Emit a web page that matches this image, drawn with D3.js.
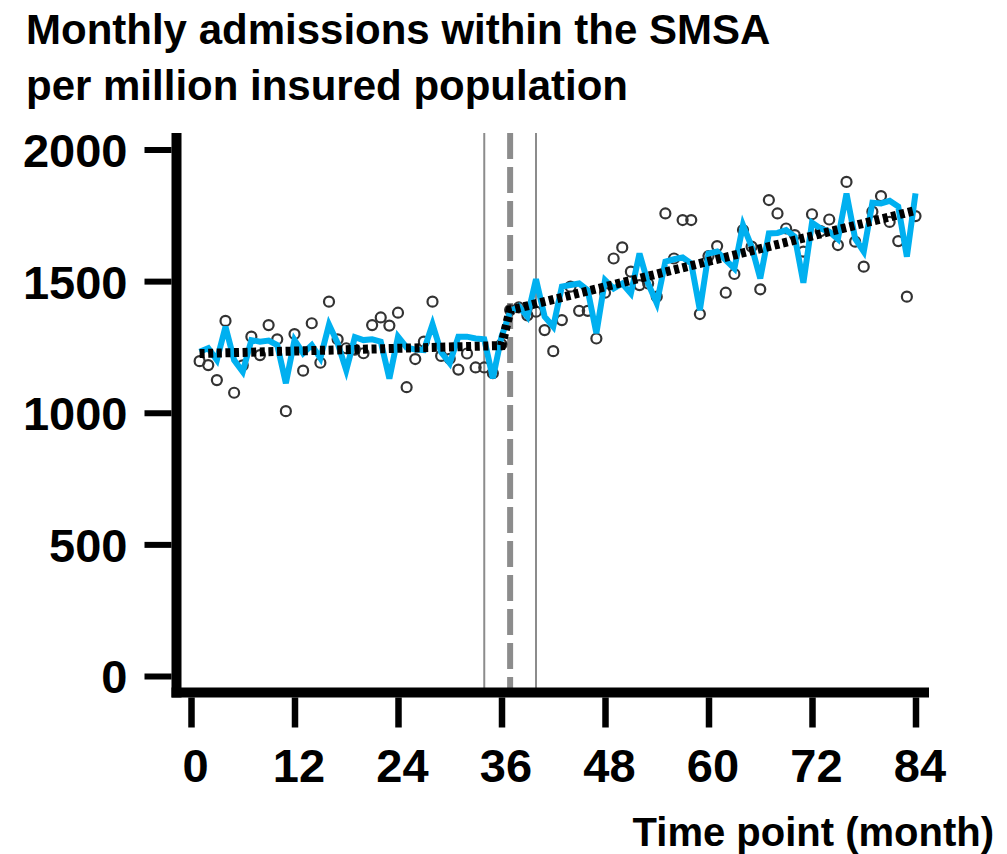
<!DOCTYPE html>
<html><head><meta charset="utf-8">
<script src="https://cdn.jsdelivr.net/npm/d3@7"></script>
<style>
body{margin:0;background:#fff}
text{font-family:"Liberation Sans",Arial,sans-serif;font-weight:bold;fill:#000}
</style>
</head><body><svg id="c" width="1007" height="854"></svg>
<script>
// ---- data ----
const months = d3.range(1, 85);
const observed = [1196,1181,1124,1349,1076,1180,1289,1219,1333,1279,
  1006,1299,1160,1340,1190,1422,1279,1245,1240,1226,
  1333,1362,1331,1380,1097,1204,1270,1422,1216,1205,
  1164,1225,1172,1172,1150,1260,1390,1400,1370,1384,
  1314,1234,1352,1479,1387,1387,1282,1456,1586,1628,
  1536,1485,1491,1441,1757,1586,1732,1732,1375,1595,
  1633,1456,1527,1694,1631,1469,1808,1757,1700,1675,
  1612,1754,1690,1734,1637,1877,1650,1555,1764,1823,
  1725,1652,1441,1747];
const fitted = [1232,1245,1200,1327,1200,1156,1276,1270,1274,1257,
  1112,1276,1226,1257,1207,1335,1265,1162,1287,1276,
  1279,1270,1130,1289,1248,1240,1238,1336,1230,1188,
  1289,1289,1282,1279,1131,1289,1384,1405,1365,1507,
  1365,1327,1479,1485,1491,1466,1302,1504,1472,1491,
  1453,1605,1491,1416,1574,1583,1590,1567,1390,1605,
  1612,1580,1548,1713,1631,1510,1681,1683,1694,1669,
  1494,1722,1700,1688,1660,1833,1662,1612,1798,1795,
  1805,1783,1593,1833];
const trendMonths = [1, 36, 37, 84];
const trendValues = [1225, 1255, 1390, 1768];
const solidMarkers = [34, 40];
const dashedMarker = [37];
const xTicks = [0, 12, 24, 36, 48, 60, 72, 84];
const yTicks = [0, 500, 1000, 1500, 2000];
const titleLines = ["Monthly admissions within the SMSA", "per million insured population"];
const xLabel = "Time point (month)";

// ---- layout ----
const svg = d3.select("#c");
const x = d3.scaleLinear().domain([0, 84]).range([191, 915.5]);
const y = d3.scaleLinear().domain([0, 2000]).range([676, 149.5]);
const plotTop = 133, plotBottom = 688;
const yAxisX = 176.5, xAxisY = 692.5;

// intervention markers
svg.selectAll("line.solid").data(solidMarkers).join("line")
  .attr("x1", d => x(d)).attr("x2", d => x(d))
  .attr("y1", plotTop).attr("y2", plotBottom)
  .attr("stroke", "#8c8c8c").attr("stroke-width", 2);
svg.selectAll("line.dash").data(dashedMarker).join("line")
  .attr("x1", d => x(d)).attr("x2", d => x(d))
  .attr("y1", plotTop).attr("y2", plotBottom)
  .attr("stroke", "#8c8c8c").attr("stroke-width", 6)
  .attr("stroke-dasharray", "26,8");

// observed points
svg.append("g").selectAll("circle").data(months).join("circle")
  .attr("cx", (d) => x(d)).attr("cy", (d, i) => y(observed[i]))
  .attr("r", 5).attr("fill", "none")
  .attr("stroke", "#333").attr("stroke-width", 2.2);

// fitted line
svg.append("path")
  .datum(months.map((m, i) => [m, fitted[i]]))
  .attr("fill", "none").attr("stroke", "#00b0f0")
  .attr("stroke-width", 6).attr("stroke-linejoin", "miter")
  .attr("d", d3.line().x(d => x(d[0])).y(d => y(d[1])));

// segmented trend
svg.append("path")
  .datum(trendMonths.map((m, i) => [m, trendValues[i]]))
  .attr("fill", "none").attr("stroke", "#000")
  .attr("stroke-width", 9).attr("stroke-dasharray", "5,3.6")
  .attr("d", d3.line().x(d => x(d[0])).y(d => y(d[1])));

// axes lines
svg.append("line").attr("x1", yAxisX).attr("x2", yAxisX)
  .attr("y1", plotTop).attr("y2", xAxisY + 5)
  .attr("stroke", "#000").attr("stroke-width", 10);
svg.append("line").attr("x1", yAxisX - 5).attr("x2", 929)
  .attr("y1", xAxisY).attr("y2", xAxisY)
  .attr("stroke", "#000").attr("stroke-width", 10);

// y axis ticks
const gy = svg.append("g").attr("transform", `translate(${yAxisX - 5},0)`)
  .call(d3.axisLeft(y).tickValues(yTicks).tickFormat(d3.format("d"))
    .tickSize(27).tickPadding(17).tickSizeOuter(0));
gy.select(".domain").remove();
gy.selectAll(".tick line").attr("stroke", "#000").attr("stroke-width", 6);
gy.selectAll(".tick text").attr("font-size", 47).attr("dy", "0.36em")
  .attr("font-family", null);

// x axis ticks
const gx = svg.append("g").attr("transform", `translate(0,${xAxisY + 5})`)
  .call(d3.axisBottom(x).tickValues(xTicks).tickFormat(d3.format("d"))
    .tickSize(30).tickPadding(21).tickSizeOuter(0));
gx.select(".domain").remove();
gx.selectAll(".tick line").attr("stroke", "#000").attr("stroke-width", 6.5);
gx.selectAll(".tick text").attr("font-size", 47).attr("dx", 4).attr("font-family", null);

// title
svg.append("g").selectAll("text").data(titleLines).join("text")
  .attr("x", 26).attr("y", (d, i) => 44 + i * 56)
  .attr("font-size", 42).text(d => d);

// x label
svg.append("text").attr("x", 994).attr("y", 846).attr("text-anchor", "end")
  .attr("font-size", 40).text(xLabel);
</script>
</body></html>
